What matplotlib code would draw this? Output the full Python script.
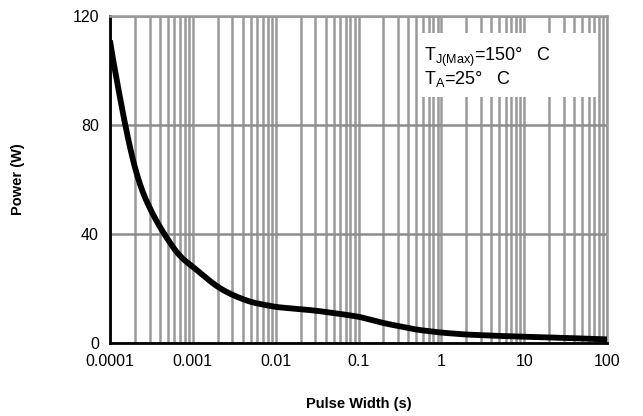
import matplotlib.pyplot as plt
from matplotlib.ticker import LogLocator, NullFormatter
from matplotlib.patches import Rectangle
import numpy as np

plt.rcParams['font.family'] = ['Liberation Sans', 'DejaVu Sans']

pulse_width = [1e-4, 1.15e-4, 1.32e-4, 1.52e-4, 1.74e-4, 2e-4, 2.3e-4, 3e-4, 4e-4,
               5.3e-4, 7e-4, 1e-3, 1.5e-3, 2e-3, 3e-3, 5e-3,
               1e-2, 2e-2, 3e-2, 5e-2, 1e-1, 2e-1, 5e-1, 1, 2, 5, 10, 30, 100]
power = [111, 100, 90, 80, 71.5, 64, 57.5, 49.5, 42.5,
         36.7, 31.6, 28, 23.5, 20.5, 17.6, 15,
         13.2, 12.4, 11.9, 11, 9.7, 7.3, 4.9, 3.8, 3.1, 2.6, 2.3, 1.9, 1.3]

xticks = [1e-4, 1e-3, 1e-2, 1e-1, 1, 10, 100]
xtick_labels = ['0.0001', '0.001', '0.01', '0.1', '1', '10', '100']
yticks = [0, 40, 80, 120]

fig = plt.figure(figsize=(6.43, 4.16), dpi=100)
ax = fig.add_axes([110/643, 1-343/416, (607-110)/643, (343-16)/416])

# smooth a bit in log space
lx = np.log10(pulse_width)
xs = np.linspace(lx[0], lx[-1], 600)
ys = np.interp(xs, lx, power)
k = 8
ys_s = np.convolve(np.pad(ys, k, mode='edge'), np.ones(2*k+1)/(2*k+1), mode='same')[k:-k]
w = np.clip(np.arange(len(ys)) / (2*k), 0, 1)
ys_s = w*ys_s + (1-w)*ys
ax.plot(10**xs, ys_s, color='black', lw=4.2, zorder=3, solid_capstyle='butt')

ax.set_xscale('log')
ax.set_xlim(1e-4, 100)
ax.set_ylim(0, 120)
ax.set_xticks(xticks)
ax.set_xticklabels(xtick_labels)
ax.xaxis.set_minor_locator(LogLocator(base=10, subs=np.arange(2, 10)))
ax.xaxis.set_minor_formatter(NullFormatter())
ax.set_yticks(yticks)

ax.grid(True, which='both', axis='x', color='#999999', lw=1.8)
ax.grid(True, which='major', axis='y', color='#8c8c8c', lw=1.8)
ax.tick_params(which='both', length=0, labelsize=11.5, pad=8)

for s in ['top', 'right']:
    ax.spines[s].set_color('#999999')
    ax.spines[s].set_linewidth(1.8)
for s in ['left', 'bottom']:
    ax.spines[s].set_color('black')
    ax.spines[s].set_linewidth(2)

ax.set_xlabel('Pulse Width (s)', fontsize=10.5, fontweight='bold', labelpad=20)
ax.set_ylabel('Power (W)', fontsize=10.5, fontweight='bold', labelpad=34)

# white box behind the conditions text
ax.add_patch(Rectangle((0.62, 0.752), 0.36, 0.196, transform=ax.transAxes,
                       facecolor='white', edgecolor='none', zorder=4))
ax.text(0.632, 0.91, '$\\mathregular{T_{J(Max)}}$=150°   C\n$\\mathregular{T_A}$=25°   C',
        transform=ax.transAxes, fontsize=13, va='top', ha='left', linespacing=1.0,
        zorder=5)

fig.savefig('out.png', dpi=100)
